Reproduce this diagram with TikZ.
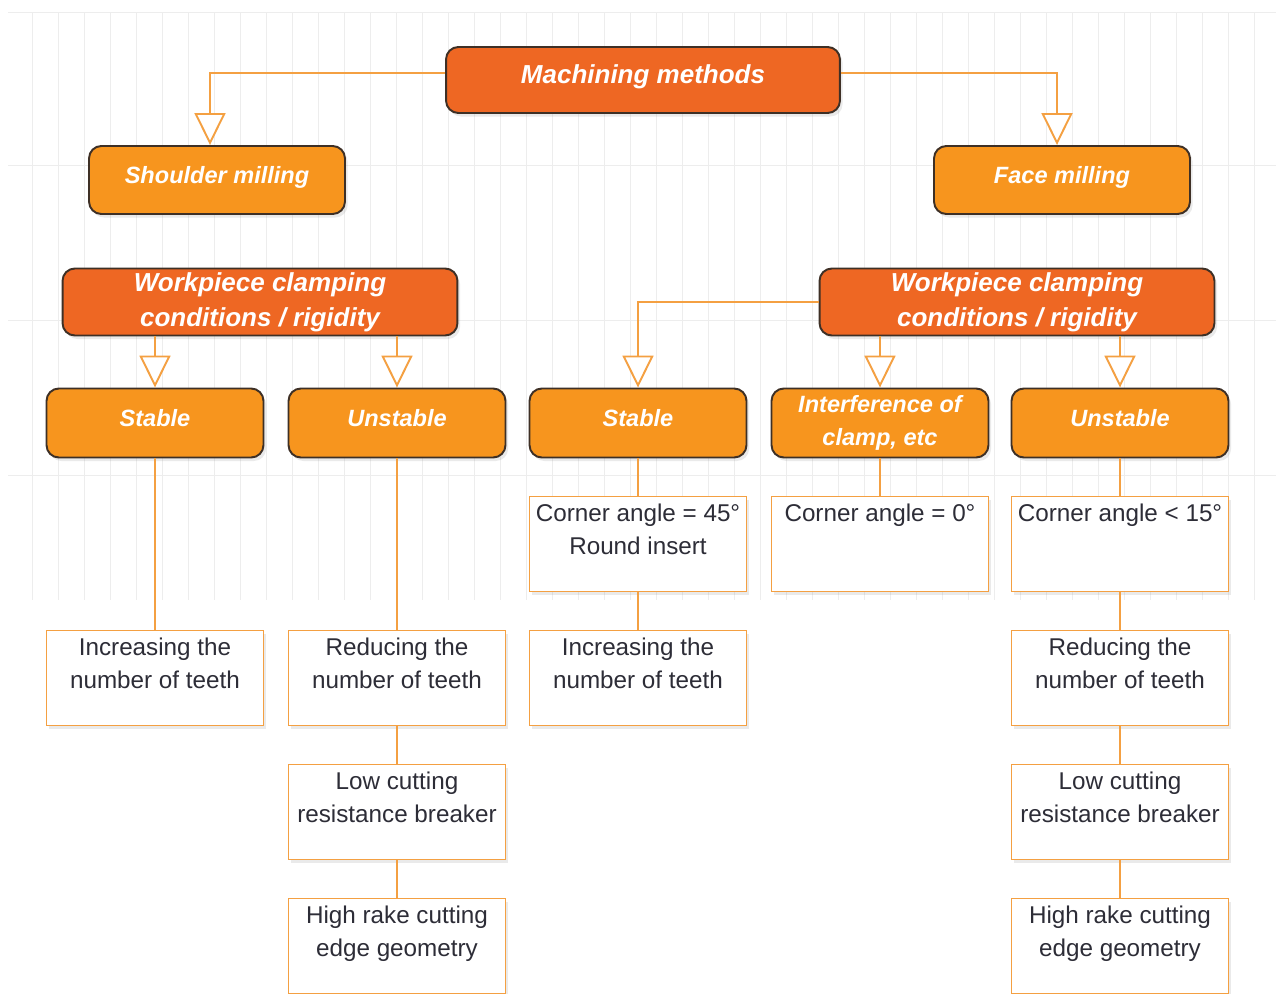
\documentclass[tikz,border=0pt]{standalone}
\usepackage{fontspec}
\setmainfont{Liberation Sans}
\usetikzlibrary{arrows.meta,shadows}
\definecolor{hdor}{RGB}{238,103,35}
\definecolor{sbor}{RGB}{247,149,30}
\definecolor{lnor}{RGB}{244,160,66}
\definecolor{bxbr}{RGB}{62,48,38}
\definecolor{txgr}{RGB}{45,45,55}
\begin{document}
\begin{tikzpicture}[x=0.02cm,y=-0.02cm,
 shd/.style={drop shadow={shadow xshift=1.5pt,shadow yshift=-2pt,opacity=0.16}},
 head/.style={shd,draw=bxbr,line width=1.1pt,fill=hdor,rounded corners=7pt,text=white,align=center,inner sep=0pt,font=\fontsize{14.8}{19.8}\selectfont\bfseries\itshape},
 sub/.style={shd,draw=bxbr,line width=1.1pt,fill=sbor,rounded corners=7pt,text=white,align=center,inner sep=0pt,minimum width=4.34cm,minimum height=1.38cm,font=\fontsize{13.4}{18.7}\selectfont\bfseries\itshape},
 lift/.style={text depth=0.22cm},
 note/.style={shd,draw=lnor,line width=1.1pt,fill=white,inner sep=0pt,minimum width=4.34cm,minimum height=1.9cm,label={[anchor=north,yshift=-0.17cm,inner sep=0pt,align=center,text=txgr,font=\fontsize{13.8}{18.7}\selectfont]north:{#1}}},
 link/.style={draw=lnor,line width=1.1pt},
 tri/.style={link,-{Triangle[width=0.62cm,length=0.64cm,fill=white]}},
 gridln/.style={draw=black!7,line width=0.5pt}]
\fill[white] (0,0) rectangle (1276,994);
\useasboundingbox (0,0) rectangle (1276,994);
\foreach \gx in {32,58,...,1270} \draw[gridln] (\gx,12) -- (\gx,600);
\foreach \gy in {12,165,320,475} \draw[gridln] (8,\gy) -- (1276,\gy);

\node[head,lift,minimum width=7.88cm,minimum height=1.32cm] (mm) at (643,80) {Machining methods};
\node[sub,lift,minimum width=5.12cm,minimum height=1.36cm] (sh) at (217,180) {Shoulder milling};
\node[sub,lift,minimum width=5.12cm,minimum height=1.36cm] (fm) at (1062,180) {Face milling};
\node[head,minimum width=7.9cm,minimum height=1.34cm] (cl) at (260,302) {Workpiece clamping\\conditions / rigidity};
\node[head,minimum width=7.9cm,minimum height=1.34cm] (cr) at (1017,302) {Workpiece clamping\\conditions / rigidity};

\node[sub,lift] (s1) at (155,423) {Stable};
\node[sub,lift] (u1) at (397,423) {Unstable};
\node[sub,lift] (s2) at (638,423) {Stable};
\node[sub] (itf) at (880,423) {Interference of\\clamp, etc};
\node[sub,lift] (u2) at (1120,423) {Unstable};

\node[note={Corner angle = 45°\\Round insert}] (c45) at (638,544) {};
\node[note={Corner angle = 0°}] (c0) at (880,544) {};
\node[note={Corner angle < 15°}] (c15) at (1120,544) {};

\node[note={Increasing the\\number of teeth}] (n1) at (155,678) {};
\node[note={Reducing the\\number of teeth}] (r1) at (397,678) {};
\node[note={Increasing the\\number of teeth}] (n2) at (638,678) {};
\node[note={Reducing the\\number of teeth}] (r2) at (1120,678) {};
\node[note={Low cutting\\resistance breaker}] (lc1) at (397,812) {};
\node[note={Low cutting\\resistance breaker}] (lc2) at (1120,812) {};
\node[note={High rake cutting\\edge geometry}] (hr1) at (397,946) {};
\node[note={High rake cutting\\edge geometry}] (hr2) at (1120,946) {};

\draw[tri] ([yshift=0.14cm]mm.west) -| ([xshift=-0.14cm]sh.north);
\draw[tri] ([yshift=0.14cm]mm.east) -| ([xshift=-0.1cm]fm.north);
\draw[tri] (cl.south -| s1.north) -- (s1.north);
\draw[tri] (cl.south -| u1.north) -- (u1.north);
\draw[tri] (cr.west) -| (s2.north);
\draw[tri] (cr.south -| itf.north) -- (itf.north);
\draw[tri] (cr.south -| u2.north) -- (u2.north);

\draw[link] (s1.south) -- (n1.north);
\draw[link] (u1.south) -- (r1.north) (r1.south) -- (lc1.north) (lc1.south) -- (hr1.north);
\draw[link] (s2.south) -- (c45.north) (c45.south) -- (n2.north);
\draw[link] (itf.south) -- (c0.north);
\draw[link] (u2.south) -- (c15.north) (c15.south) -- (r2.north) (r2.south) -- (lc2.north) (lc2.south) -- (hr2.north);
\end{tikzpicture}
\end{document}
